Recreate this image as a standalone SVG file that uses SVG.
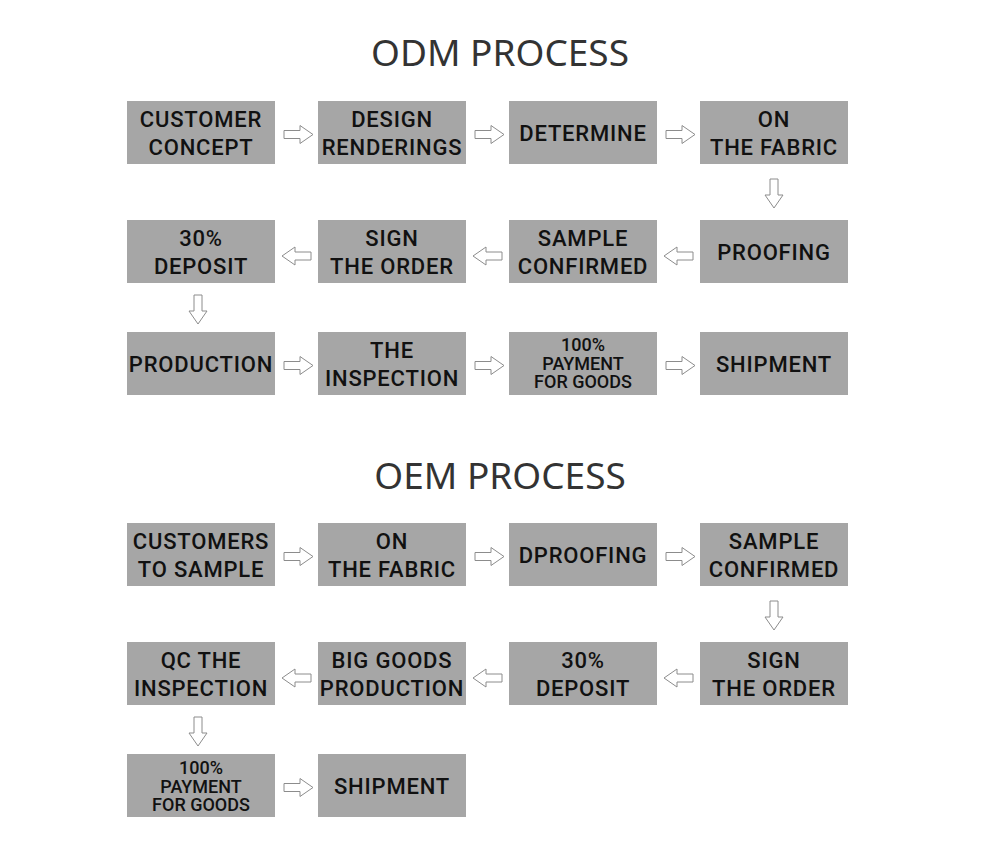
<svg xmlns="http://www.w3.org/2000/svg" xmlns:xlink="http://www.w3.org/1999/xlink" width="1000" height="850" viewBox="0 0 1000 850">
<style>
.title{font-family:"Noto Sans","Open Sans",sans-serif;font-size:37px;fill:#333;text-anchor:middle}
.box{fill:#a6a6a6}
.t{font-family:"Roboto","DejaVu Sans",sans-serif;font-size:22px;font-weight:500;fill:#111;text-anchor:middle;letter-spacing:0.8px}
.s{font-family:"Roboto","DejaVu Sans",sans-serif;font-size:18px;font-weight:500;fill:#111;text-anchor:middle}
.ar{fill:#fff;stroke:#8c8c8c;stroke-width:1}
</style>
<defs>
<path id="ra" class="ar" d="M0,-4 H16 V-9 L29,0 L16,9 V4 H0 Z"/>
</defs>
<rect width="1000" height="850" fill="#fff"/>
<text class="title" x="500" y="66">ODM PROCESS</text>
<text class="title" x="500" y="489">OEM PROCESS</text>

<g id="odm1"><rect class="box" x="127" y="101" width="148" height="63"/><text class="t" x="201" y="127">CUSTOMER</text><text class="t" x="201" y="155">CONCEPT</text></g>
<g id="odm2"><rect class="box" x="318" y="101" width="148" height="63"/><text class="t" x="392" y="127">DESIGN</text><text class="t" x="392" y="155">RENDERINGS</text></g>
<g id="odm3"><rect class="box" x="509" y="101" width="148" height="63"/><text class="t" x="583" y="141">DETERMINE</text></g>
<g id="odm4"><rect class="box" x="700" y="101" width="148" height="63"/><text class="t" x="774" y="127">ON</text><text class="t" x="774" y="155">THE FABRIC</text></g>
<g id="odm5"><rect class="box" x="700" y="220" width="148" height="63"/><text class="t" x="774" y="260">PROOFING</text></g>
<g id="odm6"><rect class="box" x="509" y="220" width="148" height="63"/><text class="t" x="583" y="246">SAMPLE</text><text class="t" x="583" y="274">CONFIRMED</text></g>
<g id="odm7"><rect class="box" x="318" y="220" width="148" height="63"/><text class="t" x="392" y="246">SIGN</text><text class="t" x="392" y="274">THE ORDER</text></g>
<g id="odm8"><rect class="box" x="127" y="220" width="148" height="63"/><text class="t" x="201" y="246">30%</text><text class="t" x="201" y="274">DEPOSIT</text></g>
<g id="odm9"><rect class="box" x="127" y="332" width="148" height="63"/><text class="t" x="201" y="372">PRODUCTION</text></g>
<g id="odm10"><rect class="box" x="318" y="332" width="148" height="63"/><text class="t" x="392" y="358">THE</text><text class="t" x="392" y="386">INSPECTION</text></g>
<g id="odm11"><rect class="box" x="509" y="332" width="148" height="63"/><text class="s" x="583" y="351">100%</text><text class="s" x="583" y="369.5">PAYMENT</text><text class="s" x="583" y="388">FOR GOODS</text></g>
<g id="odm12"><rect class="box" x="700" y="332" width="148" height="63"/><text class="t" x="774" y="372">SHIPMENT</text></g>

<g id="oem1"><rect class="box" x="127" y="523" width="148" height="63"/><text class="t" x="201" y="549">CUSTOMERS</text><text class="t" x="201" y="577">TO SAMPLE</text></g>
<g id="oem2"><rect class="box" x="318" y="523" width="148" height="63"/><text class="t" x="392" y="549">ON</text><text class="t" x="392" y="577">THE FABRIC</text></g>
<g id="oem3"><rect class="box" x="509" y="523" width="148" height="63"/><text class="t" x="583" y="563">DPROOFING</text></g>
<g id="oem4"><rect class="box" x="700" y="523" width="148" height="63"/><text class="t" x="774" y="549">SAMPLE</text><text class="t" x="774" y="577">CONFIRMED</text></g>
<g id="oem5"><rect class="box" x="700" y="642" width="148" height="63"/><text class="t" x="774" y="668">SIGN</text><text class="t" x="774" y="696">THE ORDER</text></g>
<g id="oem6"><rect class="box" x="509" y="642" width="148" height="63"/><text class="t" x="583" y="668">30%</text><text class="t" x="583" y="696">DEPOSIT</text></g>
<g id="oem7"><rect class="box" x="318" y="642" width="148" height="63"/><text class="t" x="392" y="668">BIG GOODS</text><text class="t" x="392" y="696">PRODUCTION</text></g>
<g id="oem8"><rect class="box" x="127" y="642" width="148" height="63"/><text class="t" x="201" y="668">QC THE</text><text class="t" x="201" y="696">INSPECTION</text></g>
<g id="oem9"><rect class="box" x="127" y="754" width="148" height="63"/><text class="s" x="201" y="774">100%</text><text class="s" x="201" y="792.5">PAYMENT</text><text class="s" x="201" y="811">FOR GOODS</text></g>
<g id="oem10"><rect class="box" x="318" y="754" width="148" height="63"/><text class="t" x="392" y="794">SHIPMENT</text></g>

<g id="connectors">
<use xlink:href="#ra" transform="translate(284,134.5)"/>
<use xlink:href="#ra" transform="translate(475,134.5)"/>
<use xlink:href="#ra" transform="translate(666,134.5)"/>
<use xlink:href="#ra" transform="translate(774,179) rotate(90)"/>
<use xlink:href="#ra" transform="translate(693,256) rotate(180)"/>
<use xlink:href="#ra" transform="translate(502,256) rotate(180)"/>
<use xlink:href="#ra" transform="translate(311,256) rotate(180)"/>
<use xlink:href="#ra" transform="translate(198,295) rotate(90)"/>
<use xlink:href="#ra" transform="translate(284,365.5)"/>
<use xlink:href="#ra" transform="translate(475,365.5)"/>
<use xlink:href="#ra" transform="translate(666,365.5)"/>

<use xlink:href="#ra" transform="translate(284,556.5)"/>
<use xlink:href="#ra" transform="translate(475,556.5)"/>
<use xlink:href="#ra" transform="translate(666,556.5)"/>
<use xlink:href="#ra" transform="translate(774,601) rotate(90)"/>
<use xlink:href="#ra" transform="translate(693,678) rotate(180)"/>
<use xlink:href="#ra" transform="translate(502,678) rotate(180)"/>
<use xlink:href="#ra" transform="translate(311,678) rotate(180)"/>
<use xlink:href="#ra" transform="translate(198,717) rotate(90)"/>
<use xlink:href="#ra" transform="translate(284,787.5)"/>
</g>
</svg>
